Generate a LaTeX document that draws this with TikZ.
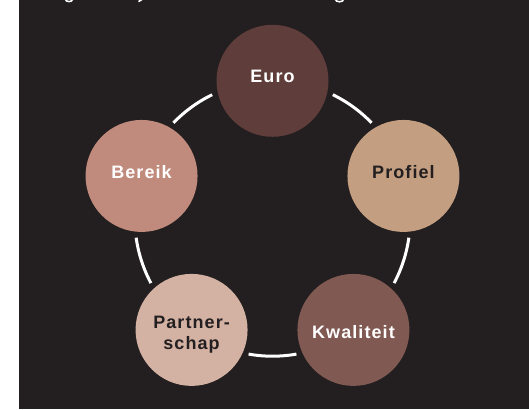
\documentclass[tikz,border=0pt]{standalone}
\usepackage{fontspec}
\setmainfont{Liberation Sans}[LetterSpace=6]
\usetikzlibrary{calc}
\definecolor{bg}{HTML}{231F20}
\definecolor{ceuro}{HTML}{5F3D3A}
\definecolor{cbereik}{HTML}{C08A7D}
\definecolor{cprofiel}{HTML}{C39E80}
\definecolor{cpartner}{HTML}{D4B2A3}
\definecolor{ckwal}{HTML}{805953}
\tikzset{
  disc/.style={circle, minimum size=112pt, inner sep=0pt, draw=none},
  lbl/.style={font=\fontsize{18}{21}\selectfont\bfseries, align=center, inner sep=0pt},
  ringarc/.style={draw=white, line width=3pt},
}
\begin{document}
\begin{tikzpicture}[x=1pt,y=1pt]
\useasboundingbox (0,0) rectangle (529,409);
\clip (0,0) rectangle (529,409);
\fill[white] (0,0) rectangle (529,409);
\fill[bg] (19,0) rectangle (529,409);
% cut-off title descenders
\draw[white, line width=1.6pt] (65.5,409.6) arc[start angle=180, end angle=360, x radius=3.5, y radius=2.2];
\draw[white, line width=1.6pt] (142,409.5) -- (138.5,407.4);
\draw[white, line width=1.6pt] (335.5,409.6) arc[start angle=180, end angle=360, x radius=4, y radius=2.4];
\coordinate (C) at (272.5,190.5);
\def\R{137.7}
\node[disc, fill=ceuro]    (euro)    at ($(C)+(90:\R)$) {};
\node[disc, fill=cprofiel] (profiel) at ($(C)+(18:\R)$) {};
\node[disc, fill=ckwal]    (kwal)    at ($(C)+(-54:\R)$) {};
\node[disc, fill=cpartner] (partner) at ($(C)+(-126:\R)$) {};
\node[disc, fill=cbereik]  (bereik)  at ($(C)+(162:\R)$) {};
\node[lbl, text=white] (euro-t)    at ($(euro)+(0,4)$) {Euro};
\node[lbl, text=bg]    (profiel-t) at ($(profiel)+(0,3.5)$) {Profiel};
\node[lbl, text=white] (kwal-t)    at ($(kwal)+(0,-2.5)$) {Kwaliteit};
\node[lbl, text=bg]    (partner-t) at ($(partner)+(0,-4.5)$) {Partner-\\schap};
\node[lbl, text=white] (bereik-t)  at ($(bereik)+(0,3.5)$) {Bereik};
% ring arcs between the discs
\foreach \m in {54,-18,-90,-162,126}{
  \draw[ringarc] ($(C)+(\m-10:\R)$) arc[start angle=\m-10, end angle=\m+10, radius=\R pt];
}
\end{tikzpicture}
\end{document}
